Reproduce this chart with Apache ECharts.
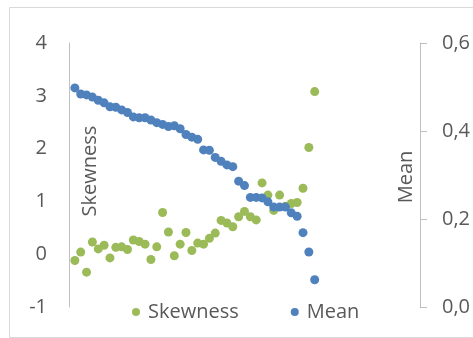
<!DOCTYPE html>
<html>
<head>
<meta charset="utf-8">
<script src="https://cdn.jsdelivr.net/npm/echarts@6/dist/echarts.min.js"></script>
<style>
html,body{margin:0;padding:0;background:#fff;}
#c{width:473px;height:338px;}
</style>
</head>
<body>
<div id="c"></div>
<script>
// Data (x = observation index 1..42)
var skewness = [-0.12, 0.04, -0.34, 0.23, 0.10, 0.17, -0.07, 0.13, 0.14, 0.09,
  0.27, 0.24, 0.19, -0.10, 0.14, 0.79, 0.42, -0.03, 0.19, 0.41,
  0.07, 0.21, 0.19, 0.30, 0.40, 0.64, 0.59, 0.52, 0.71, 0.81,
  0.71, 0.65, 1.35, 1.12, 0.83, 1.12, 0.91, 0.96, 0.98, 1.25,
  2.02, 3.08];
var mean = [0.498, 0.484, 0.482, 0.477, 0.470, 0.464, 0.455, 0.454, 0.448, 0.442,
  0.432, 0.430, 0.430, 0.425, 0.419, 0.415, 0.410, 0.412, 0.405, 0.392,
  0.386, 0.381, 0.357, 0.356, 0.340, 0.331, 0.323, 0.319, 0.286, 0.276,
  0.249, 0.249, 0.248, 0.239, 0.227, 0.227, 0.227, 0.214, 0.206, 0.169,
  0.125, 0.062];
var seriesNames = ['Skewness', 'Mean'];
var leftTicks = [-1, 4, 1];
var rightTicks = [0, 0.6, 0.2];

function toPoints(arr){ return arr.map(function(v,i){ return [i+1, v]; }); }

var FONT = 'Open Sans';
var TXT = '#595959';
var AX = '#BFBFBF';
var FS = 20;

var chart = echarts.init(document.getElementById('c'), null, {renderer:'canvas'});
chart.setOption({
  animation: false,
  backgroundColor: '#fff',
  textStyle: {fontFamily: FONT},
  graphic: [{
    type: 'rect', left: 7, top: 5, silent: true,
    shape: {x: 0, y: 0, width: 465, height: 330},
    style: {fill: 'none', stroke: '#D9D9D9', lineWidth: 1}
  }, {
    type: 'text', x: 90, y: 171, rotation: Math.PI / 2, silent: true,
    style: {text: seriesNames[0], fill: TXT, font: FS + 'px "' + FONT + '"',
      textAlign: 'center', textVerticalAlign: 'middle'}
  }, {
    type: 'text', x: 406, y: 177, rotation: Math.PI / 2, silent: true,
    style: {text: seriesNames[1], fill: TXT, font: FS + 'px "' + FONT + '"',
      textAlign: 'center', textVerticalAlign: 'middle'}
  }],
  grid: {left: 69, right: 53, top: 43, bottom: 31, containLabel: false, outerBoundsMode: 'none'},
  legend: {
    data: seriesNames,
    top: 297, left: 127,
    icon: 'circle', itemWidth: 14, itemHeight: 8, itemGap: 52,
    textStyle: {color: TXT, fontSize: FS, fontFamily: FONT}
  },
  xAxis: {type: 'value', min: 0, max: 60, show: false},
  yAxis: [{
    type: 'value', min: leftTicks[0], max: leftTicks[1], interval: leftTicks[2],
    axisLine: {show: true, lineStyle: {color: AX, width: 1}},
    axisTick: {show: false},
    splitLine: {show: false},
    axisLabel: {color: TXT, fontSize: FS, fontFamily: FONT, margin: 22}
  }, {
    type: 'value', position: 'right', min: rightTicks[0], max: rightTicks[1], interval: rightTicks[2],
    axisLine: {show: true, lineStyle: {color: AX, width: 1}},
    axisTick: {show: true, length: 7, inside: false, lineStyle: {color: AX}},
    splitLine: {show: false},
    axisLabel: {color: TXT, fontSize: FS, fontFamily: FONT, margin: 22,
      formatter: function(v){ return v.toFixed(1).replace('.', ','); }}
  }],
  series: [{
    name: seriesNames[0], type: 'scatter', yAxisIndex: 0,
    symbolSize: 9, itemStyle: {color: '#9BBB59', opacity: 1},
    data: toPoints(skewness)
  }, {
    name: seriesNames[1], type: 'scatter', yAxisIndex: 1,
    symbolSize: 9, itemStyle: {color: '#4F81BD', opacity: 1},
    data: toPoints(mean)
  }]
});
</script>
</body>
</html>
